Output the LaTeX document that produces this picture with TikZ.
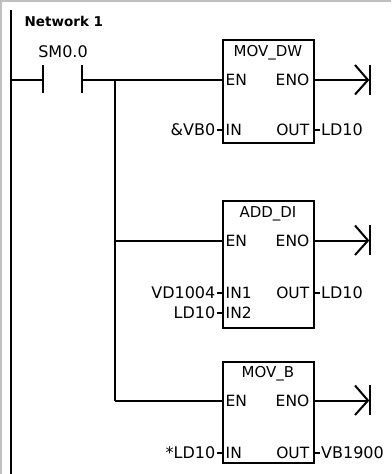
\documentclass[tikz,border=0pt]{standalone}
\usepackage{fontspec}
\setmainfont{DejaVu Sans}
\begin{document}
\begin{tikzpicture}[x=1pt,y=-1pt,
  wire/.style={line width=2pt},
  rail/.style={line width=2.6pt},
  frame/.style={line width=2pt,color=black!25},
  fbox/.style={draw,line width=2pt,minimum width=91pt,inner sep=0pt},
  lbl/.style={font=\fontsize{16}{16}\selectfont,inner sep=0pt},
  pinl/.style={font=\fontsize{15.5}{15.5}\selectfont,inner sep=0pt},
  ttl/.style={font=\fontsize{15}{15}\selectfont,inner sep=0pt},
  netw/.style={font=\bfseries\fontsize{13.5}{13.5}\selectfont,inner sep=0pt,anchor=west},
]
\useasboundingbox (0,0) rectangle (391,474);
% frame
\draw[frame] (0,1) -- (391,1);
\draw[frame] (1,0) -- (1,474);
% left power rail
\coordinate (railtop) at (11,10);
\coordinate (railbot) at (11,474);
\draw[rail] (railtop) -- (railbot);
% title
\node[netw] (net) at (24.5,21) {Network 1};
% contact
\node[lbl] (sm) at (63,51.5) {SM0.0};
\coordinate (r0) at (11,80);
\coordinate (cl) at (42.5,80);
\coordinate (cr) at (81.5,80);
\coordinate (clt) at (42.5,65);
\coordinate (clb) at (42.5,93);
\coordinate (crt) at (81.5,65);
\coordinate (crb) at (81.5,93);
\draw[wire] (clt) -- (clb);
\draw[wire] (crt) -- (crb);
\draw[wire] (r0) -- (cl);
% boxes
\node[fbox,minimum height=103pt] (b1) at (268,91) {};
\node[fbox,minimum height=127.5pt] (b2) at (268,264.25) {};
\node[fbox,minimum height=101.5pt] (b3) at (268,412.25) {};
% titles
\node[ttl] (t1) at (268,52.5) {MOV\_DW};
\node[ttl] (t2) at (268,213.5) {ADD\_DI};
\node[ttl] (t3) at (268,374) {MOV\_B};
% EN wires
\coordinate (en1) at (222.5,80);
\coordinate (en2) at (222.5,240.5);
\coordinate (en3) at (222.5,400.5);
\coordinate (br1) at (114.5,80);
\coordinate (br2) at (114.5,240.5);
\coordinate (br3) at (114.5,400.5);
\draw[wire] (cr) -- (en1);
\draw[wire] (br1) -- (br3);
\draw[wire] (br2) -- (en2);
\draw[wire] (br3) -- (en3);
% pin labels
\foreach \b/\y in {1/80,2/240.5,3/400.5}{
  \node[pinl,anchor=west] (en\b l) at (225.5,\y) {EN};
  \node[pinl,anchor=east] (eno\b l) at (309.5,\y) {ENO};
  % ENO output with end symbol
  \coordinate (eo\b) at (313.5,\y);
  \coordinate (tip\b) at (368,\y);
  \coordinate (ua\b) at (355,\y-15);
  \coordinate (la\b) at (355,\y+14.5);
  \coordinate (bt\b) at (370,\y-15.5);
  \coordinate (bb\b) at (370,\y+14.5);
  \draw[wire] (eo\b) -- (tip\b);
  \draw[wire] (ua\b) -- (tip\b) -- (la\b);
  \draw[wire] (bt\b) -- (bb\b);
}
% inputs and outputs
\foreach \y/\inl/\pl in {130/{\&VB0}/IN, 293/VD1004/IN1, 313/LD10/IN2, 452.5/{*LD10}/IN}{
  \coordinate (si) at (216.5,\y);
  \coordinate (sb) at (222.5,\y);
  \draw[wire] (si) -- (sb);
  \node[lbl,anchor=east] (il) at (215.5,\y) {\inl};
  \node[pinl,anchor=west] (ip) at (225.5,\y) {\pl};
}
\foreach \y/\ol in {130/LD10, 293/LD10, 452.5/VB1900}{
  \coordinate (so) at (313.5,\y);
  \coordinate (se) at (319.5,\y);
  \draw[wire] (so) -- (se);
  \node[lbl,anchor=west] (ol) at (321,\y) {\ol};
  \node[pinl,anchor=east] (op) at (309.5,\y) {OUT};
}
\end{tikzpicture}
\end{document}
